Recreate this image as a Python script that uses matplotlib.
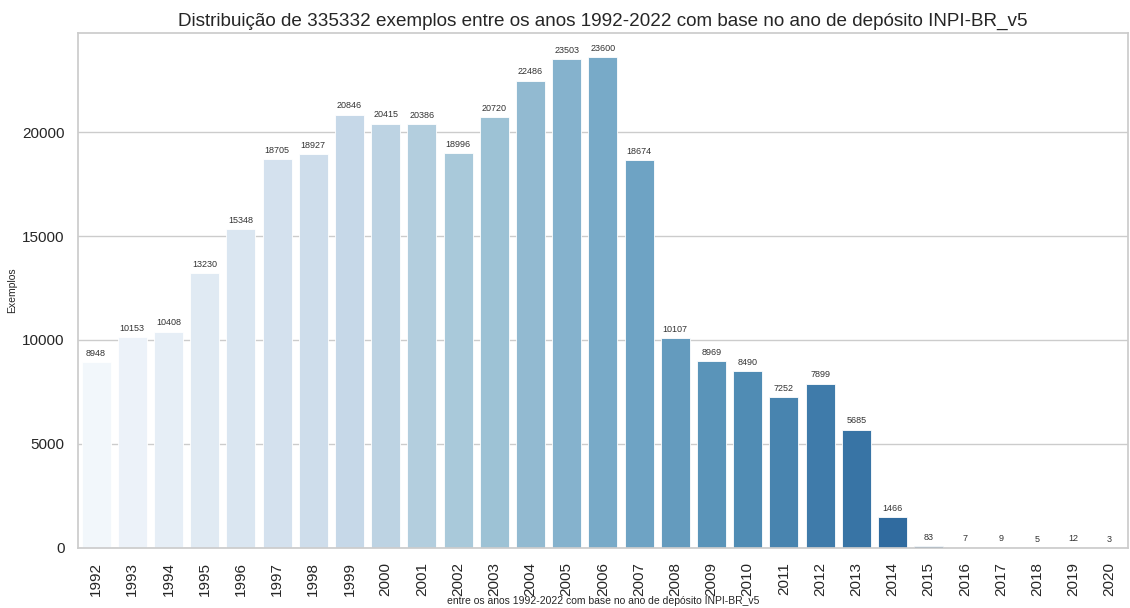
import matplotlib
matplotlib.use("Agg")
import matplotlib.pyplot as plt
import seaborn as sns

anos = [str(a) for a in range(1992, 2021)]
exemplos = [8948, 10153, 10408, 13230, 15348, 18705, 18927, 20846, 20415, 20386,
            18996, 20720, 22486, 23503, 23600, 18674, 10107, 8969, 8490, 7252,
            7899, 5685, 1466, 83, 7, 9, 5, 12, 3]

sns.set_theme(style="whitegrid")
plt.rcParams['font.family'] = ['Liberation Sans', 'DejaVu Sans']

fig, ax = plt.subplots(figsize=(11.3, 6.08), dpi=100)
fig.subplots_adjust(left=0.069, right=0.998, top=0.946, bottom=0.099)

# paleta Blues, dessaturada como no barplot do seaborn
cores = [sns.desaturate(c, 0.75) for c in sns.color_palette("Blues", len(anos))]
barras = ax.bar(anos, exemplos, color=cores, width=0.8, edgecolor='white', linewidth=0.6)
ax.bar_label(barras, fontsize=6.5, padding=3, color='#333333')

ax.set_xlim(-0.5, len(anos) - 0.5)
ax.set_title('Distribuição de 335332 exemplos entre os anos 1992-2022 com base no ano de depósito INPI-BR_v5',
             fontsize=13.6, color='#262626', pad=5)
ax.set_ylabel('Exemplos', fontsize=7.5, labelpad=4)
ax.set_xlabel('entre os anos 1992-2022 com base no ano de depósito INPI-BR_v5', fontsize=7.5, labelpad=0)
ax.tick_params(axis='x', labelsize=11, rotation=90, pad=4)
ax.tick_params(axis='y', labelsize=11)
ax.grid(axis='x', visible=False)

fig.savefig('out.png', dpi=100)
